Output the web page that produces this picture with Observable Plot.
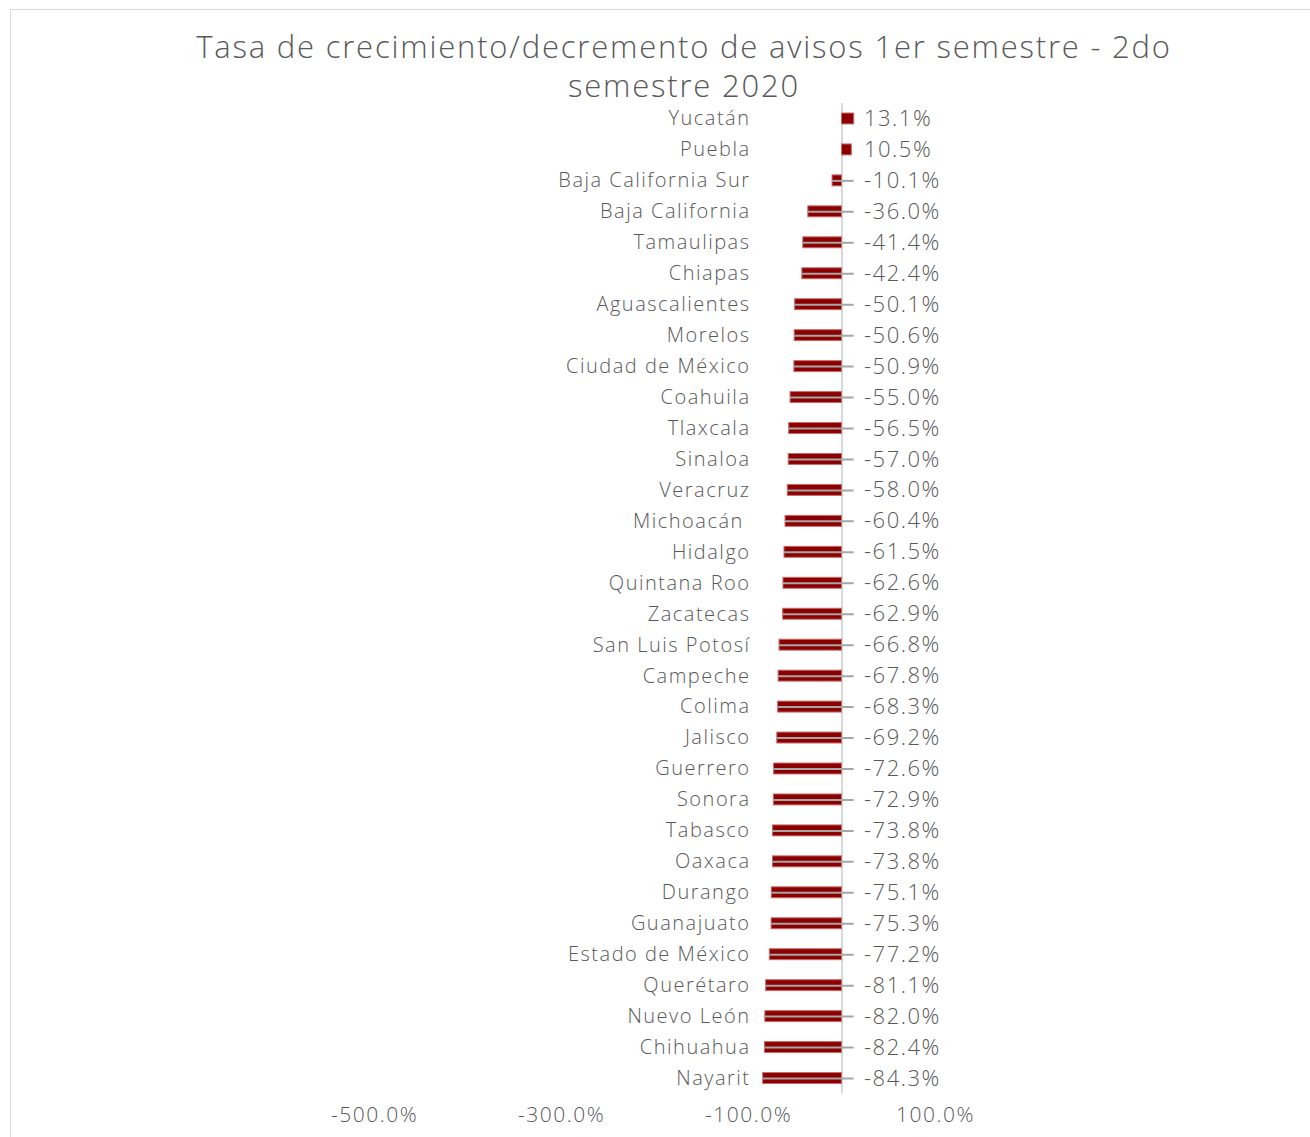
<!DOCTYPE html>
<html>
<head>
<meta charset="utf-8">
<script src="https://cdn.jsdelivr.net/npm/d3@7"></script>
<script src="https://cdn.jsdelivr.net/npm/@observablehq/plot@0.6"></script>
<style>
  html, body { margin: 0; padding: 0; background: #fff; overflow: hidden; }
  body { width: 1310px; height: 1137px; position: relative; font-family: "Open Sans", sans-serif; }
  #frame { position: absolute; left: 10px; top: 9px; width: 1320px; height: 1160px; border: 1.5px solid #d9d9d9; box-sizing: border-box; }
  #title { position: absolute; left: 0; top: 27px; width: 1368px; text-align: center; font-weight: 300; font-size: 31px; line-height: 39px; color: #595959; letter-spacing: 1.8px; }
  #chart { position: absolute; left: 0; top: 90px; }
</style>
</head>
<body>
<div id="frame"></div>
<div id="title"></div>
<div id="chart"></div>
<script>
const titleLines = ["Tasa de crecimiento/decremento de avisos 1er semestre - 2do", "semestre 2020"];
const states = ["Yucatán", "Puebla", "Baja California Sur", "Baja California", "Tamaulipas", "Chiapas", "Aguascalientes", "Morelos", "Ciudad de México", "Coahuila", "Tlaxcala", "Sinaloa", "Veracruz", "Michoacán\u00a0", "Hidalgo", "Quintana Roo", "Zacatecas", "San Luis Potosí", "Campeche", "Colima", "Jalisco", "Guerrero", "Sonora", "Tabasco", "Oaxaca", "Durango", "Guanajuato", "Estado de México", "Querétaro", "Nuevo León", "Chihuahua", "Nayarit"];
const values = [13.1, 10.5, -10.1, -36.0, -41.4, -42.4, -50.1, -50.6, -50.9, -55.0, -56.5, -57.0, -58.0, -60.4, -61.5, -62.6, -62.9, -66.8, -67.8, -68.3, -69.2, -72.6, -72.9, -73.8, -73.8, -75.1, -75.3, -77.2, -81.1, -82.0, -82.4, -84.3];
const xTicks = [-500, -300, -100, 100];

document.getElementById("title").innerHTML = titleLines.join("<br>");

const data = states.map((s, i) => ({state: s, value: values[i]}));
const fmt = v => v.toFixed(1) + "%";
const leaderEnd = 13;

const chart = Plot.plot({
  width: 1310,
  height: 1047,
  marginTop: 13,
  marginBottom: 43.5,
  marginLeft: 374,
  marginRight: 375,
  style: {fontFamily: "Open Sans", fontWeight: 300, fontSize: "20px", color: "#595959", background: "transparent", letterSpacing: "1.5px"},
  x: {domain: [-500, 100]},
  y: {domain: states, padding: 0},
  marks: [
    Plot.ruleX([0], {stroke: "#d9d9d9", strokeWidth: 2}),
    Plot.barX(data, {x: "value", y: "state", fill: "#8b0000", stroke: "#c96b6b", strokeWidth: 1, insetTop: 10, insetBottom: 10}),
    Plot.ruleY(data.filter(d => d.value < 0), {y: "state", x1: "value", x2: () => leaderEnd, stroke: "#a6a6a6", strokeWidth: 2}),
    Plot.text(data, {x: () => 0, y: "state", text: d => fmt(d.value), textAnchor: "start", dx: 22, fontSize: 22, fill: "#595959"}),
    Plot.axisX({ticks: xTicks, tickFormat: fmt, tickSize: 0, tickPadding: 13, fontSize: 21, label: null, color: "#595959"}),
    Plot.axisY({tickSize: 0, dx: 385, fontSize: 20, label: null, color: "#595959"})
  ]
});
document.getElementById("chart").appendChild(chart);
</script>
</body>
</html>
